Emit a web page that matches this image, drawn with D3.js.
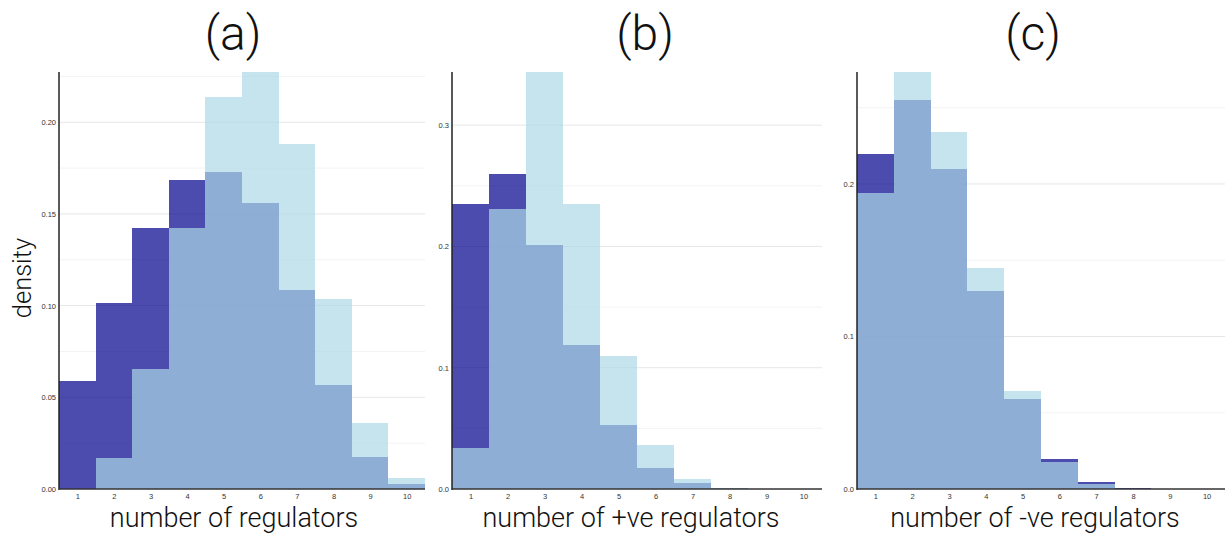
<!DOCTYPE html>
<html><head><meta charset="utf-8">
<script src="https://cdn.jsdelivr.net/npm/d3@7"></script>
<style>body{margin:0;background:#fff}</style></head>
<body>
<svg id="chart" width="1226" height="533"></svg>
<script>
// ---- data ----
const bins = [1, 2, 3, 4, 5, 6, 7, 8, 9, 10];
const titles = ["(a)", "(b)", "(c)"];
const xLabels = ["number of regulators", "number of +ve regulators", "number of -ve regulators"];
const yLabel = "density";

// dark (navy) series and light (light blue) series per panel
const darkA  = [0.0589, 0.1014, 0.1423, 0.1685, 0.1728, 0.1560, 0.1085, 0.0567, 0.0174, 0.0027];
const lightA = [0.0000, 0.0169, 0.0654, 0.1423, 0.2137, 0.2274, 0.1880, 0.1036, 0.0360, 0.0060];
const darkB  = [0.2350, 0.2597, 0.2012, 0.1187, 0.0528, 0.0176, 0.0049, 0.0010, 0.0002, 0.0000];
const lightB = [0.0338, 0.2308, 0.3438, 0.2350, 0.1096, 0.0363, 0.0082, 0.0005, 0.0000, 0.0000];
const darkC  = [0.2197, 0.2551, 0.2098, 0.1300, 0.0590, 0.0197, 0.0046, 0.0007, 0.0001, 0.0000];
const lightC = [0.1943, 0.2734, 0.2341, 0.1449, 0.0643, 0.0177, 0.0033, 0.0003, 0.0000, 0.0000];

const majorTicksA = [0, 0.05, 0.10, 0.15, 0.20];
const minorTicksA = [0.025, 0.075, 0.125, 0.175, 0.225];
const majorTicksB = [0, 0.1, 0.2, 0.3];
const minorTicksB = [0.05, 0.15, 0.25];
const majorTicksC = [0, 0.1, 0.2];
const minorTicksC = [0.05, 0.15, 0.25];
const tickFormats = [".2f", ".1f", ".1f"];

// ---- layout ----
const panels = [
  {dark: darkA, light: lightA, major: majorTicksA, minor: minorTicksA, x0: 59,  x1: 425,  titleX: 233, labelX: 234},
  {dark: darkB, light: lightB, major: majorTicksB, minor: minorTicksB, x0: 452, x1: 822,  titleX: 645, labelX: 631},
  {dark: darkC, light: lightC, major: majorTicksC, minor: minorTicksC, x0: 857, x1: 1225, titleX: 1033, labelX: 1035}
];
const plotTop = 72, plotBottom = 489;
const darkColor = "#00008b", lightColor = "#add8e6", barOpacity = 0.7;
const font = "Roboto, 'Liberation Sans', Arial, sans-serif";
const tickFont = "'Liberation Sans', Arial, sans-serif";

const svg = d3.select("#chart");

panels.forEach((p, i) => {
  const x = d3.scaleLinear().domain([0.5, 10.5]).range([p.x0, p.x1]);
  const ymax = d3.max(p.dark.concat(p.light));
  const y = d3.scaleLinear().domain([0, ymax]).range([plotBottom, plotTop]);
  const g = svg.append("g");

  // grid
  g.selectAll(".minor").data(p.minor.filter(v => v <= ymax)).join("line")
    .attr("x1", p.x0).attr("x2", p.x1)
    .attr("y1", d => y(d)).attr("y2", d => y(d))
    .attr("stroke", "#f3f3f3").attr("stroke-width", 1);
  g.selectAll(".major").data(p.major.filter(v => v > 0)).join("line")
    .attr("x1", p.x0).attr("x2", p.x1)
    .attr("y1", d => y(d)).attr("y2", d => y(d))
    .attr("stroke", "#e6e6e6").attr("stroke-width", 1);

  const series = [[p.dark, darkColor], [p.light, lightColor]];
  series.forEach(([vals, col]) => {
    g.append("g").selectAll("rect").data(bins).join("rect")
      .attr("x", b => x(b - 0.5))
      .attr("width", b => x(b + 0.5) - x(b - 0.5))
      .attr("y", (b, j) => y(vals[j]))
      .attr("height", (b, j) => plotBottom - y(vals[j]))
      .attr("fill", col).attr("fill-opacity", barOpacity)
      .attr("shape-rendering", "crispEdges");
  });

  // y axis
  const yAxis = d3.axisLeft(y).tickValues(p.major).tickFormat(d3.format(tickFormats[i])).tickSize(0).tickPadding(3);
  const ya = g.append("g").attr("transform", `translate(${p.x0},0)`).call(yAxis);
  ya.select(".domain").remove();
  ya.selectAll("text").attr("font-family", tickFont).attr("font-size", 7.5).attr("fill", "#333");
  g.append("line").attr("x1", p.x0).attr("x2", p.x0).attr("y1", plotTop).attr("y2", plotBottom + 1)
    .attr("stroke", "#222").attr("stroke-width", 1.5);

  // x axis
  const xAxis = d3.axisBottom(x).tickValues(bins).tickFormat(d3.format("d")).tickSize(0).tickPadding(5);
  const xa = g.append("g").attr("transform", `translate(0,${plotBottom})`).call(xAxis);
  xa.select(".domain").remove();
  xa.selectAll("text").attr("font-family", tickFont).attr("font-size", 7.5).attr("fill", "#333");
  g.append("line").attr("x1", p.x0).attr("x2", p.x1).attr("y1", plotBottom).attr("y2", plotBottom)
    .attr("stroke", "#333").attr("stroke-width", 1.5);

  // title
  svg.append("text").attr("x", p.titleX).attr("y", 50).attr("text-anchor", "middle")
    .attr("font-family", font).attr("font-weight", 300).attr("font-size", 48).attr("fill", "#111")
    .text(titles[i]);
  // x label
  svg.append("text").attr("x", p.labelX).attr("y", 527).attr("text-anchor", "middle")
    .attr("font-family", font).attr("font-weight", 300).attr("font-size", 27).attr("fill", "#111")
    .text(xLabels[i]);
});

svg.append("text").attr("transform", "translate(31,278) rotate(-90)").attr("text-anchor", "middle")
  .attr("font-family", font).attr("font-weight", 300).attr("font-size", 25.5).attr("fill", "#111")
  .text(yLabel);
</script>
</body></html>
